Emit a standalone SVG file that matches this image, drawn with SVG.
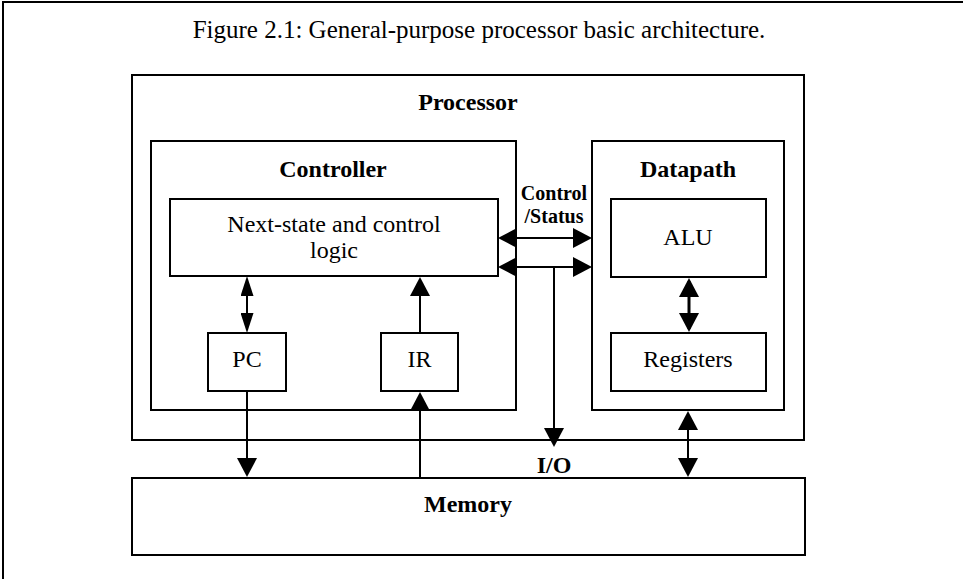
<svg xmlns="http://www.w3.org/2000/svg" width="963" height="579" viewBox="0 0 963 579">
<defs>
<style>
.box{fill:none;stroke:#000;stroke-width:2}
.t{font-family:"Liberation Serif","Times New Roman",serif;font-size:24px;fill:#000;text-anchor:middle}
.b{font-weight:bold}
.c{stroke:#000;stroke-width:2;fill:none}
</style>
<marker id="ah" markerUnits="userSpaceOnUse" markerWidth="19" markerHeight="20" refX="16" refY="10" orient="auto-start-reverse" viewBox="0 0 19 20"><path d="M0,0 L19,10 L0,20 Z" fill="#000"/></marker>
<marker id="as" markerUnits="userSpaceOnUse" markerWidth="20" markerHeight="13" refX="17" refY="6.5" orient="auto-start-reverse" viewBox="0 0 20 13"><path d="M0,0 L20,6.5 L0,13 Z" fill="#000"/></marker>
</defs>
<rect width="963" height="579" fill="#fff"/>
<g id="frame"><path class="c" d="M3,579 V2 H963"/></g>
<text class="t" x="479" y="38" style="font-size:25px">Figure 2.1: General-purpose processor basic architecture.</text>
<g id="processor"><rect class="box" x="132" y="75" width="672" height="365"/><text class="t b" x="468" y="110">Processor</text></g>
<g id="controller"><rect class="box" x="151" y="141" width="365" height="269"/><text class="t b" x="333" y="177">Controller</text></g>
<g id="datapath"><rect class="box" x="592" y="141" width="192" height="269"/><text class="t b" x="688" y="177">Datapath</text></g>
<g id="nextstate"><rect class="box" x="170" y="199" width="328" height="77"/><text class="t" x="334" y="232">Next-state and control</text><text class="t" x="334" y="258">logic</text></g>
<g id="alu"><rect class="box" x="611" y="199" width="155" height="78"/><text class="t" x="688" y="245">ALU</text></g>
<g id="registers"><rect class="box" x="611" y="333" width="155" height="58"/><text class="t" x="688" y="367">Registers</text></g>
<g id="pc"><rect class="box" x="208" y="333" width="78" height="58"/><text class="t" x="247" y="367">PC</text></g>
<g id="ir"><rect class="box" x="381" y="333" width="77" height="58"/><text class="t" x="419.5" y="367">IR</text></g>
<g id="memory"><rect class="box" x="132" y="478" width="673" height="77"/><text class="t b" x="468" y="512">Memory</text></g>
<g id="connectors">
<line class="c" x1="501" y1="238" x2="589" y2="238" marker-start="url(#ah)" marker-end="url(#ah)"/>
<line class="c" x1="501" y1="267" x2="589" y2="267" marker-start="url(#ah)" marker-end="url(#ah)"/>
<line class="c" x1="554" y1="267" x2="554" y2="444" marker-end="url(#ah)"/>
<line class="c" x1="247" y1="279" x2="247" y2="330" marker-start="url(#as)" marker-end="url(#as)"/>
<line class="c" x1="420" y1="333" x2="420" y2="280" marker-end="url(#ah)"/>
<line class="c" x1="247" y1="391" x2="247" y2="474" marker-end="url(#ah)"/>
<line class="c" x1="420" y1="478" x2="420" y2="395" marker-end="url(#ah)"/>
<line class="c" x1="689" y1="281" x2="689" y2="329" style="stroke-width:3" marker-start="url(#ah)" marker-end="url(#ah)"/>
<line class="c" x1="688" y1="414" x2="688" y2="474" marker-start="url(#ah)" marker-end="url(#ah)"/>
</g>
<g id="labels">
<text class="t b" x="554" y="200" style="font-size:20px">Control</text>
<text class="t b" x="554" y="223" style="font-size:20px">/Status</text>
<text class="t b" x="554" y="473">I/O</text>
</g>
</svg>
